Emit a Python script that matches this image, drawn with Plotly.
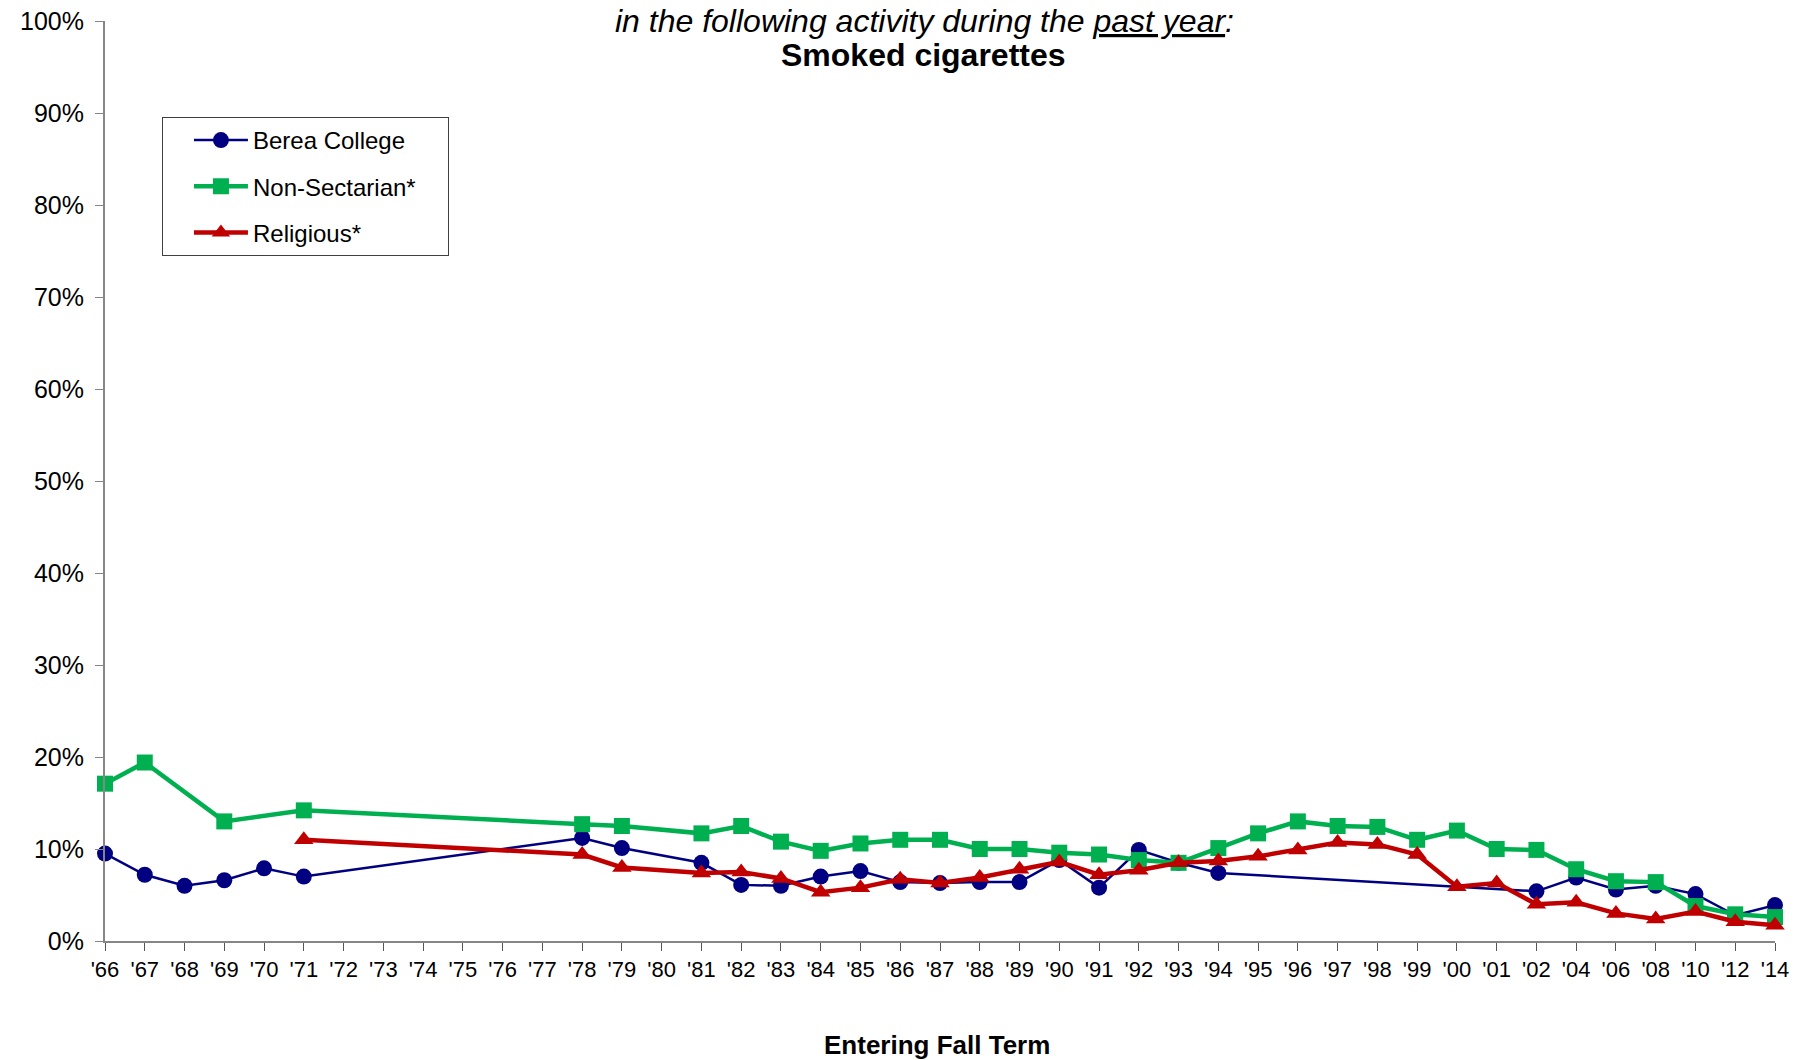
import plotly.graph_objects as go

# ---- data -------------------------------------------------------------
years = ["'66", "'67", "'68", "'69", "'70", "'71", "'72", "'73", "'74", "'75",
         "'76", "'77", "'78", "'79", "'80", "'81", "'82", "'83", "'84", "'85",
         "'86", "'87", "'88", "'89", "'90", "'91", "'92", "'93", "'94", "'95",
         "'96", "'97", "'98", "'99", "'00", "'01", "'02", "'04", "'06", "'08",
         "'10", "'12", "'14"]

berea = [9.5, 7.2, 6.0, 6.6, 7.9, 7.0,
         None, None, None, None, None, None,
         11.2, 10.1, None,
         8.5, 6.1, 6.0, 7.0, 7.6, 6.4, 6.3, 6.4, 6.4, 8.8, 5.8, 9.9, 8.5, 7.4,
         None, None, None, None, None, None, None,
         5.4, 6.9, 5.6, 6.0, 5.1, 2.8, 3.9]

non_sectarian = [17.1, 19.4, None, 13.0, None, 14.2,
                 None, None, None, None, None, None,
                 12.7, 12.5, None,
                 11.7, 12.5, 10.8, 9.8, 10.6, 11.0, 11.0, 10.0, 10.0, 9.6, 9.4, 8.8, 8.5, 10.1,
                 11.7, 13.0, 12.5, 12.4, 11.0, 12.0, 10.0,
                 9.9, 7.8, 6.5, 6.4, 3.8, 2.9, 2.6]

religious = [None, None, None, None, None, 11.0,
             None, None, None, None, None, None,
             9.4, 8.0, None,
             7.4, 7.5, 6.8, 5.3, 5.8, 6.7, 6.3, 6.9, 7.8, 8.6, 7.2, 7.7, 8.5, 8.7,
             9.2, 9.9, 10.7, 10.5, 9.4, 5.9, 6.3,
             4.0, 4.2, 3.0, 2.4, 3.2, 2.1, 1.7]

y_ticks = [0, 10, 20, 30, 40, 50, 60, 70, 80, 90, 100]

series_names = ["Berea College", "Non-Sectarian*", "Religious*"]

# ---- styling ------------------------------------------------------------
FONT = "Liberation Sans, Arial, sans-serif"
AXIS_GRAY = "#868686"
PAD = "\u00a0" * 4   # invisible padding that widens the legend box

fig = go.Figure()

fig.add_trace(go.Scatter(
    x=years, y=berea, name=series_names[0], mode="lines+markers",
    connectgaps=True, cliponaxis=False, legendgroup="a",
    line=dict(color="#000080", width=2.5),
    marker=dict(symbol="circle", size=16, color="#000080"),
))
fig.add_trace(go.Scatter(
    x=years, y=non_sectarian, name=series_names[1] + PAD, mode="lines+markers",
    connectgaps=True, cliponaxis=False, legendgroup="b",
    line=dict(color="#00B050", width=4.5),
    marker=dict(symbol="square", size=16, color="#00B050"),
))
fig.add_trace(go.Scatter(
    x=years, y=religious, name=series_names[2], mode="lines+markers",
    connectgaps=True, cliponaxis=False, legendgroup="c",
    line=dict(color="#C00000", width=4.5),
    marker=dict(symbol="triangle-up", size=17, color="#C00000"),
))

fig.update_layout(
    width=1798, height=1060,
    margin=dict(l=105, r=23, t=21, b=119, pad=0, autoexpand=False),
    paper_bgcolor="white", plot_bgcolor="white",
    font=dict(family=FONT, color="black"),
    showlegend=True,
    legend=dict(
        x=0.0341, y=0.8957, xanchor="left", yanchor="top",
        bgcolor="white", bordercolor="#404040", borderwidth=1,
        font=dict(family=FONT, size=24, color="black"),
        tracegroupgap=12, itemwidth=54, indentation=26,
    ),
    xaxis=dict(
        type="category", categoryorder="array", categoryarray=years,
        range=[0, len(years) - 1], automargin=False,
        tickmode="array", tickvals=years, ticktext=years, tickangle=0,
        tickfont=dict(family=FONT, size=22, color="black"),
        showline=True, linecolor=AXIS_GRAY, linewidth=2,
        ticks="outside", ticklen=8, tickcolor="#555555", tickwidth=1,
        ticklabeloverflow="allow",
        showgrid=False, zeroline=False, fixedrange=True,
    ),
    yaxis=dict(
        range=[0, 100], tickmode="array", tickvals=y_ticks, automargin=False,
        ticktext=[f"{v}%" for v in y_ticks],
        tickfont=dict(family=FONT, size=25, color="black"),
        showline=True, linecolor=AXIS_GRAY, linewidth=2,
        ticks="outside", ticklen=8, tickcolor=AXIS_GRAY, tickwidth=1,
        ticklabelstandoff=6, ticklabeloverflow="allow",
        showgrid=False, zeroline=False, fixedrange=True,
    ),
    annotations=[
        dict(text="in the following activity during the <u>past year</u>:",
             xref="paper", yref="paper", x=0.491, y=1.0005,
             xanchor="center", yanchor="middle", showarrow=False,
             font=dict(family=FONT, size=32, color="black", style="italic")),
        dict(text="<b>Smoked cigarettes</b>",
             xref="paper", yref="paper", x=0.490, y=0.9625,
             xanchor="center", yanchor="middle", showarrow=False,
             font=dict(family=FONT, size=32, color="black")),
        dict(text="<b>Entering Fall Term</b>",
             xref="paper", yref="paper", x=0.498, y=-0.113,
             xanchor="center", yanchor="middle", showarrow=False,
             font=dict(family=FONT, size=26, color="black")),
    ],
)

# remove the browser's default 8px body margin so the figure fills the window
fig.write_html("out.html",
               config={"displayModeBar": False},
               post_script="document.body.style.margin='0px';"
                           "document.body.style.overflow='hidden';")
